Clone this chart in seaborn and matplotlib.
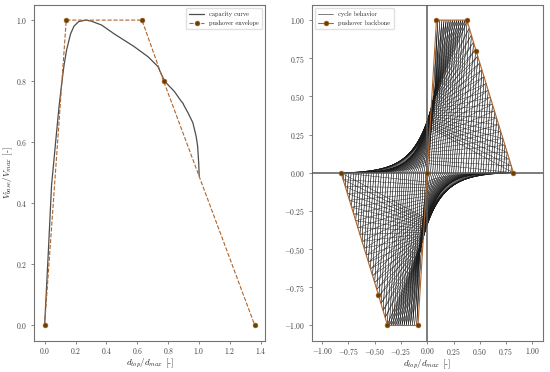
import numpy as np
import pandas as pd
import matplotlib
matplotlib.use("Agg")
import matplotlib.pyplot as plt
import seaborn as sns

# capacity curve (left panel)
cap_d = [0.0, 0.024, 0.045, 0.06, 0.073, 0.092, 0.11, 0.125, 0.142, 0.168, 0.19, 0.22,
         0.266, 0.3, 0.368, 0.45, 0.58, 0.669, 0.733, 0.776, 0.84, 0.884, 0.895, 0.9,
         0.927, 0.959, 0.98, 0.99, 0.997, 1.0]
cap_v = [0.0, 0.24, 0.46, 0.54, 0.61, 0.71, 0.79, 0.85, 0.902, 0.955, 0.98, 0.995,
         1.0, 0.997, 0.984, 0.955, 0.913, 0.88, 0.848, 0.8, 0.766, 0.734, 0.728, 0.722,
         0.697, 0.664, 0.62, 0.587, 0.53, 0.49]

# pushover envelope (left panel)
env_d = [0.0, 0.14, 0.63, 0.77, 1.36]
env_v = [0.0, 1.0, 1.0, 0.8, 0.0]

# pushover backbone (right panel)
bb_d = [-0.82, -0.464, -0.378, -0.088, 0.0, 0.088, 0.378, 0.464, 0.82]
bb_v = [0.0, -0.8, -1.0, -1.0, 0.0, 1.0, 1.0, 0.8, 0.0]

# cycle amplitudes of the cyclic run
cycle_amp = [0.10, 0.12, 0.14, 0.16, 0.18, 0.20, 0.22, 0.24, 0.26, 0.28, 0.30, 0.32,
             0.34, 0.36, 0.38, 0.40, 0.42, 0.44, 0.46, 0.48, 0.50, 0.52, 0.54, 0.56,
             0.58, 0.60, 0.62, 0.64, 0.66, 0.68, 0.70, 0.72, 0.74, 0.76, 0.78, 0.80, 0.82]

# hysteresis rule parameters (first and repeated cycle at each amplitude)
k_unload = 11.4
pinch_base = [0.30, 0.06]
pinch_gain = [0.22, 0.42]
pinch_xgain = 0.06
curv = 5.0

pos_d = bb_d[4:]
pos_v = bb_v[4:]

rows = []
uid = 0
for a in cycle_amp:
    F = np.interp(a, pos_d, pos_v)
    r = a - F / k_unload
    for pb, pg in zip(pinch_base, pinch_gain):
        yp = pb + pg * F
        xp = 0.01 + pinch_xgain * F
        xs = np.linspace(-r, xp, 30)
        ys = yp * np.expm1(curv * (xs + r)) / np.expm1(curv * (xp + r))
        xs = np.concatenate([xs, [a, r]])
        ys = np.concatenate([ys, [F, 0.0]])
        loop_x = np.concatenate([xs, -xs])
        loop_y = np.concatenate([ys, -ys])
        for x, y in zip(loop_x, loop_y):
            rows.append({"d": x, "v": y, "cycle": uid})
        uid += 1
cyc = pd.DataFrame(rows)

sns.set_style("ticks")
plt.rcParams["font.family"] = "serif"
plt.rcParams["font.serif"] = ["cmr10", "DejaVu Serif"]
plt.rcParams["mathtext.fontset"] = "cm"
plt.rcParams["axes.formatter.use_mathtext"] = True
plt.rcParams["axes.edgecolor"] = "0.45"
plt.rcParams["axes.linewidth"] = 0.8
plt.rcParams["xtick.color"] = "0.45"
plt.rcParams["ytick.color"] = "0.45"
plt.rcParams["xtick.labelcolor"] = "0.25"
plt.rcParams["ytick.labelcolor"] = "0.25"
plt.rcParams["xtick.major.size"] = 2.5
plt.rcParams["ytick.major.size"] = 2.5
plt.rcParams["xtick.major.width"] = 0.6
plt.rcParams["ytick.major.width"] = 0.6
plt.rcParams["xtick.major.pad"] = 1.5
plt.rcParams["ytick.major.pad"] = 2

fig, (ax1, ax2) = plt.subplots(1, 2, figsize=(5.5, 3.72), dpi=100)
plt.subplots_adjust(left=0.062, right=0.987, bottom=0.084, top=0.987, wspace=0.2)

line_c = "#b0642a"
mark_c = "#6b3f00"

# left: capacity curve and pushover envelope
sns.lineplot(x=cap_d, y=cap_v, sort=False, ax=ax1, color="0.3", lw=0.9,
             label="capacity curve")
sns.lineplot(x=env_d, y=env_v, sort=False, ax=ax1, color=line_c, lw=0.8,
             linestyle="--", marker="o", markersize=3.5, markerfacecolor=mark_c,
             markeredgecolor=line_c, markeredgewidth=0.4, label="pushover envelope")
ax1.set_xlabel("$d_{top}/d_{max}$ [-]", fontsize=6.5, labelpad=0)
ax1.set_ylabel("$V_{base}/V_{max}$ [-]", fontsize=6.5, labelpad=1)
ax1.set_xticks([0.0, 0.2, 0.4, 0.6, 0.8, 1.0, 1.2, 1.4])
ax1.set_yticks([0.0, 0.2, 0.4, 0.6, 0.8, 1.0])
ax1.tick_params(labelsize=5.5)
ax1.legend(loc="upper right", fontsize=4.5, frameon=True, edgecolor="0.85",
           fancybox=True, handlelength=2.5, borderpad=0.5)

# right: cyclic behaviour with pushover backbone
ax2.axhline(0, color="0.35", lw=1.1, zorder=3)
ax2.axvline(0, color="0.35", lw=1.1, zorder=3)
sns.lineplot(data=cyc, x="d", y="v", units="cycle", estimator=None, sort=False,
             ax=ax2, color="0.1", lw=0.3, label="cycle behavior", zorder=2)
sns.lineplot(x=bb_d, y=bb_v, sort=False, ax=ax2, color=line_c, lw=0.8,
             marker="o", markersize=3.5, markerfacecolor=mark_c,
             markeredgecolor=line_c, markeredgewidth=0.4, label="pushover backbone",
             zorder=4)
ax2.set_xlim(-1.1, 1.1)
ax2.set_ylim(-1.1, 1.1)
ax2.set_xticks([-1.0, -0.75, -0.5, -0.25, 0.0, 0.25, 0.5, 0.75, 1.0])
ax2.set_yticks([-1.0, -0.75, -0.5, -0.25, 0.0, 0.25, 0.5, 0.75, 1.0])
ax2.set_xlabel("$d_{top}/d_{max}$ [-]", fontsize=6.5, labelpad=0)
ax2.set_ylabel("")
ax2.tick_params(labelsize=5.5)
handles, labels = ax2.get_legend_handles_labels()
uniq = dict(zip(labels, handles))
leg = ax2.legend(uniq.values(), uniq.keys(), loc="upper left", fontsize=4.5,
                 frameon=True, edgecolor="0.85", handlelength=2.5, borderpad=0.5)
leg.legend_handles[0].set_linewidth(0.6)
leg.legend_handles[0].set_color("0.4")

for ax in (ax1, ax2):
    for s in ax.spines.values():
        s.set_visible(True)

plt.savefig("out.png", dpi=100)
